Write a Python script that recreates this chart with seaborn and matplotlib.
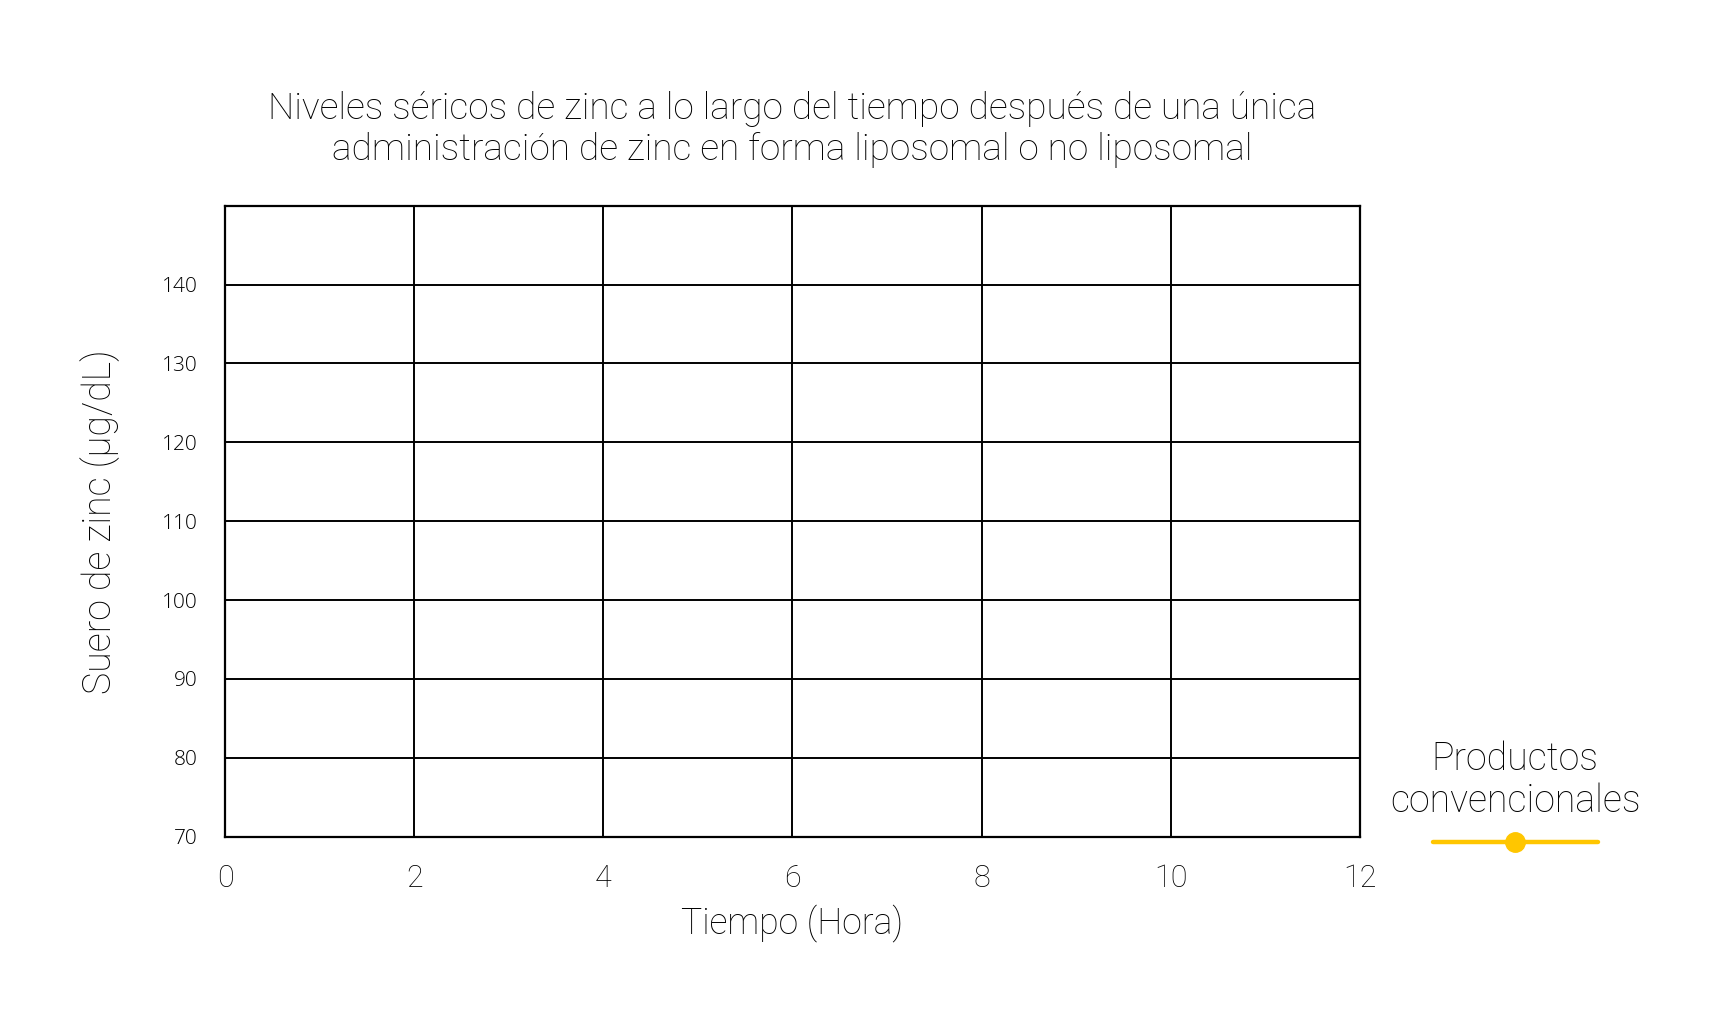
import numpy as np
import pandas as pd
import seaborn as sns
import matplotlib.pyplot as plt
from matplotlib.lines import Line2D

# chart content (the series itself has no plotted points)
hours = []
zinc_conv = []
series_name = "Productos\nconvencionales"
x_ticks = [0, 2, 4, 6, 8, 10, 12]
y_ticks = [70, 80, 90, 100, 110, 120, 130, 140]
y_top = 150
title = ("Niveles séricos de zinc a lo largo del tiempo después de una única\n"
         "administración de zinc en forma liposomal o no liposomal")
x_label = "Tiempo (Hora)"
y_label = "Suero de zinc (µg/dL)"
line_color = "#FFC600"

sns.set_theme(style="whitegrid")
plt.rcParams['font.family'] = ['Roboto', 'DejaVu Sans']
plt.rcParams['text.color'] = 'black'
plt.rcParams['axes.labelcolor'] = 'black'
W = 'light'

fig = plt.figure(figsize=(17.19, 10.29), dpi=100)
ax = fig.add_axes([0.131, 0.187, 0.66, 0.613])

df = pd.DataFrame({"hours": pd.Series(hours, dtype=float),
                   "zinc": pd.Series(zinc_conv, dtype=float)})
if len(df):
    sns.lineplot(data=df, x="hours", y="zinc", color=line_color, marker="o", ax=ax)

ax.set_xlim(x_ticks[0], x_ticks[-1])
ax.set_ylim(y_ticks[0], y_top)
ax.set_xticks(x_ticks)
ax.set_yticks(y_ticks + [y_top])
ax.set_yticklabels([str(v) for v in y_ticks] + [""])

# grid and frame in black
ax.grid(True, color="black", linewidth=1.4)
for sp in ax.spines.values():
    sp.set_color("black")
    sp.set_linewidth(1.6)
ax.tick_params(axis="x", length=0, pad=20, labelsize=22, labelcolor="black")
ax.tick_params(axis="y", length=0, pad=20, labelsize=15, labelcolor="black")
for lab in ax.get_xticklabels():
    lab.set_fontweight(W)
for lab in ax.get_yticklabels():
    lab.set_fontfamily(['Open Sans', 'DejaVu Sans'])
    lab.set_fontweight(W)

ax.set_title(title, fontsize=26.7, pad=33, color="black", linespacing=1.18,
             fontweight=W)
ax.set_xlabel(x_label, fontsize=25.6, labelpad=8, color="black", fontweight=W)
ax.set_ylabel(y_label, fontsize=27, labelpad=30, color="black", fontweight=W)

# legend: name above, line with a dot below
handle = Line2D([], [], color=line_color, linewidth=3.2, marker="o",
                markersize=14, solid_capstyle="round")
leg = fig.legend(handles=[handle], labels=[""], title=series_name,
                 loc="center", bbox_to_anchor=(0.8815, 0.222), frameon=False,
                 handlelength=4.95, handletextpad=0, fontsize=24,
                 title_fontsize=27, borderpad=0, labelspacing=0.25)
leg.get_title().set_linespacing(1.15)
leg.get_title().set_multialignment("center")
leg.get_title().set_fontweight(W)
leg.get_title().set_color("black")

fig.savefig("out.png", dpi=100, facecolor="white")
